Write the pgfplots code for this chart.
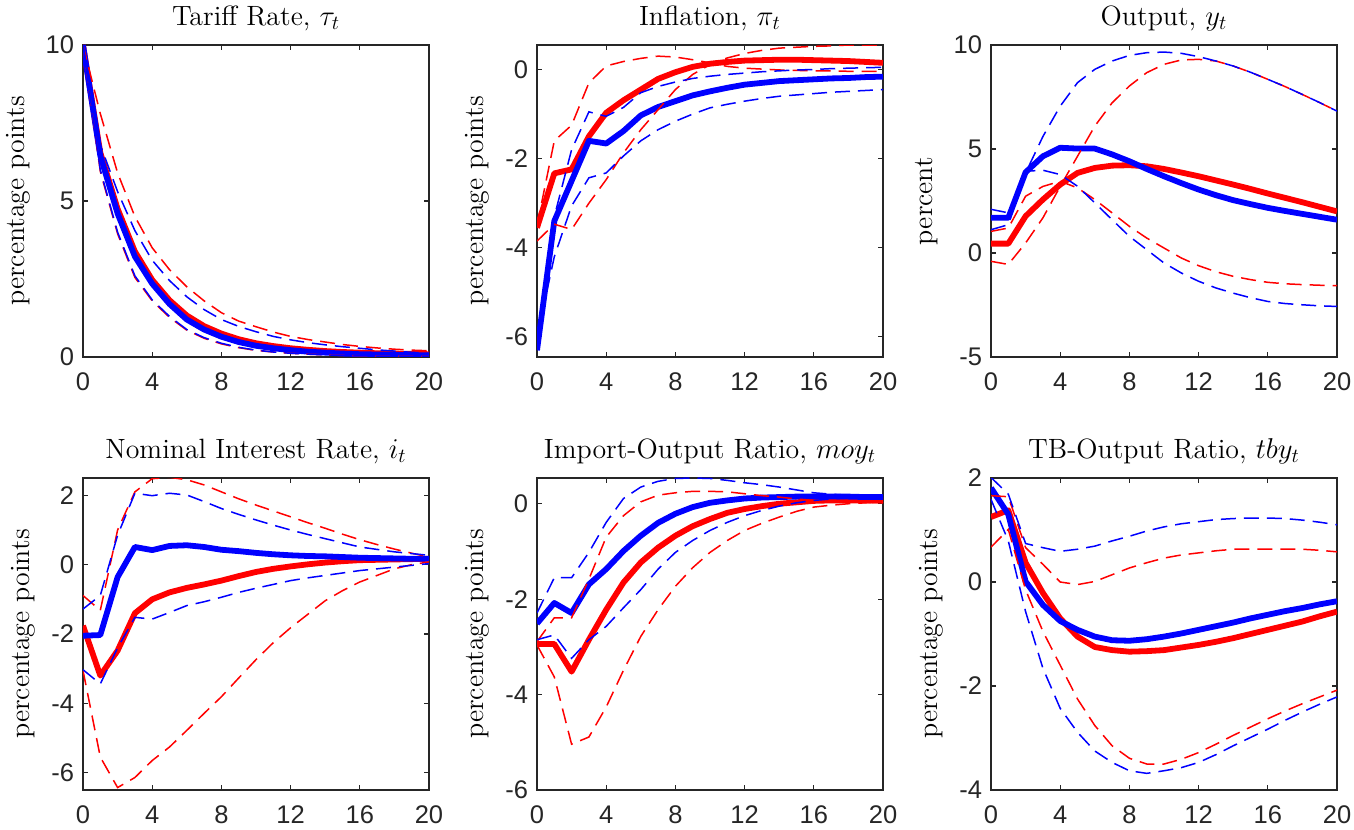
\documentclass[border=0pt]{standalone}
\usepackage{fontspec}
\usepackage{pgfplots}
\pgfplotsset{compat=1.18}
\usepgfplotslibrary{groupplots}
\newfontfamily\helv{Liberation Sans}
\definecolor{axgray}{RGB}{38,38,38}
\pgfplotsset{
  irf/.style={
    scale only axis, width=173bp, height=156bp,
    xmin=0, xmax=20, xtick={0,4,8,12,16,20},
    xticklabels={0,4,8,12,16,20},
    tick label style={font=\helv\fontsize{12.8}{14}\selectfont, text=axgray},
    xticklabel style={yshift=-4.5bp},
    yticklabel style={xshift=-1bp},
    axis line style={axgray, line width=0.55bp},
    every tick/.style={axgray, line width=0.55bp},
    major tick length=2.6bp,
    tick align=inside,
    title style={font=\fontsize{14}{16}\selectfont, yshift=-2.5bp},
    ylabel style={font=\fontsize{14}{16}\selectfont, yshift=1bp},
    clip=true,
  },
  rs/.style={red, line width=2.9bp, line join=round},
  bs/.style={blue, line width=2.9bp, line join=round},
  rd/.style={red, line width=0.75bp, dash pattern=on 7.5bp off 4bp},
  bd/.style={blue, line width=0.75bp, dash pattern=on 7.5bp off 4bp},
}
\begin{document}
\begin{tikzpicture}
\begin{groupplot}[group style={group size=3 by 2, horizontal sep=54bp, vertical sep=60.5bp}, irf]
% ---------- Tariff
\nextgroupplot[title={Tariff Rate, $\tau_t$}, ylabel={percentage points},
  ymin=0, ymax=10, ytick={0,5,10}, yticklabels={0,5,10}]
\addplot[rs] coordinates {(0,10)(1,6.55)(2,4.75)(3,3.38)(4,2.47)(5,1.82)(6,1.33)(7,0.99)(8,0.75)(9,0.57)(10,0.44)(11,0.35)(12,0.28)(13,0.23)(14,0.19)(15,0.16)(16,0.14)(17,0.12)(18,0.11)(19,0.1)(20,0.09)};
\addplot[bs] coordinates {(0,10)(1,6.45)(2,4.6)(3,3.22)(4,2.35)(5,1.7)(6,1.2)(7,0.88)(8,0.65)(9,0.48)(10,0.36)(11,0.28)(12,0.22)(13,0.17)(14,0.14)(15,0.11)(16,0.09)(17,0.08)(18,0.07)(19,0.06)(20,0.05)};
\addplot[rd] coordinates {(0,10)(1,7.8)(2,5.9)(3,4.5)(4,3.5)(5,2.8)(6,2.25)(7,1.8)(8,1.42)(9,1.15)(10,0.97)(11,0.8)(12,0.66)(13,0.56)(14,0.48)(15,0.4)(16,0.34)(17,0.29)(18,0.25)(19,0.22)(20,0.2)};
\addplot[rd] coordinates {(0,10)(1,5.95)(2,3.95)(3,2.55)(4,1.8)(5,1.27)(6,0.86)(7,0.6)(8,0.42)(9,0.3)(10,0.21)(11,0.16)(12,0.12)(13,0.09)(14,0.07)(15,0.05)(16,0.04)(17,0.03)(18,0.03)(19,0.02)(20,0.02)};
\addplot[bd] coordinates {(0,10)(1,6.8)(2,5.3)(3,4.05)(4,3.1)(5,2.45)(6,1.93)(7,1.52)(8,1.2)(9,0.98)(10,0.81)(11,0.66)(12,0.55)(13,0.46)(14,0.39)(15,0.33)(16,0.28)(17,0.23)(18,0.19)(19,0.15)(20,0.12)};
\addplot[bd] coordinates {(0,10)(1,6.0)(2,4.0)(3,2.6)(4,1.83)(5,1.3)(6,0.88)(7,0.62)(8,0.44)(9,0.31)(10,0.22)(11,0.16)(12,0.12)(13,0.09)(14,0.07)(15,0.05)(16,0.04)(17,0.03)(18,0.03)(19,0.02)(20,0.02)};
% ---------- Inflation
\nextgroupplot[title={Inflation, $\pi_t$}, ylabel={percentage points},
  ymin=-6.45, ymax=0.55, ytick={-6,-4,-2,0}, yticklabels={-6,-4,-2,0}]
\addplot[rs] coordinates {(0,-3.55)(1,-2.33)(2,-2.24)(3,-1.5)(4,-0.97)(5,-0.69)(6,-0.45)(7,-0.21)(8,-0.06)(9,0.06)(10,0.13)(11,0.17)(12,0.2)(13,0.21)(14,0.22)(15,0.22)(16,0.21)(17,0.2)(18,0.19)(19,0.17)(20,0.15)};
\addplot[bs] coordinates {(0,-6.3)(1,-3.4)(2,-2.5)(3,-1.6)(4,-1.66)(5,-1.38)(6,-1.03)(7,-0.84)(8,-0.71)(9,-0.58)(10,-0.49)(11,-0.41)(12,-0.34)(13,-0.3)(14,-0.26)(15,-0.24)(16,-0.22)(17,-0.2)(18,-0.19)(19,-0.17)(20,-0.16)};
\addplot[rd] coordinates {(0,-3.5)(1,-1.6)(2,-1.25)(3,-0.3)(4,0.08)(5,0.18)(6,0.25)(7,0.3)(8,0.28)(9,0.22)(10,0.15)(11,0.07)(12,0.03)(13,0.01)(14,-0.01)(15,-0.02)(16,-0.03)(17,-0.03)(18,-0.04)(19,-0.04)(20,-0.04)};
\addplot[rd] coordinates {(0,-3.85)(1,-3.47)(2,-3.59)(3,-3.0)(4,-2.47)(5,-1.87)(6,-1.35)(7,-0.9)(8,-0.45)(9,-0.11)(10,0.11)(11,0.26)(12,0.36)(13,0.43)(14,0.48)(15,0.5)(16,0.52)(17,0.53)(18,0.55)(19,0.55)(20,0.55)};
\addplot[bd] coordinates {(0,-6.2)(1,-3.3)(2,-1.8)(3,-0.95)(4,-1.05)(5,-0.85)(6,-0.52)(7,-0.38)(8,-0.28)(9,-0.2)(10,-0.15)(11,-0.11)(12,-0.08)(13,-0.05)(14,-0.03)(15,-0.01)(16,0.0)(17,0.02)(18,0.03)(19,0.04)(20,0.05)};
\addplot[bd] coordinates {(0,-6.0)(1,-4.2)(2,-3.06)(3,-2.43)(4,-2.32)(5,-1.94)(6,-1.6)(7,-1.35)(8,-1.16)(9,-1.0)(10,-0.86)(11,-0.78)(12,-0.71)(13,-0.65)(14,-0.6)(15,-0.57)(16,-0.54)(17,-0.51)(18,-0.49)(19,-0.47)(20,-0.45)};
% ---------- Output
\nextgroupplot[title={Output, $y_t$}, ylabel={percent},
  ymin=-5, ymax=10, ytick={-5,0,5,10}, yticklabels={-5,0,5,10}]
\addplot[rs] coordinates {(0,0.45)(1,0.45)(2,1.77)(3,2.57)(4,3.29)(5,3.85)(6,4.09)(7,4.2)(8,4.22)(9,4.17)(10,4.04)(11,3.87)(12,3.69)(13,3.49)(14,3.29)(15,3.08)(16,2.86)(17,2.65)(18,2.44)(19,2.22)(20,2.0)};
\addplot[bs] coordinates {(0,1.69)(1,1.69)(2,3.88)(3,4.65)(4,5.06)(5,5.02)(6,5.02)(7,4.74)(8,4.41)(9,4.04)(10,3.69)(11,3.36)(12,3.05)(13,2.78)(14,2.54)(15,2.35)(16,2.17)(17,2.02)(18,1.88)(19,1.74)(20,1.6)};
\addplot[rd] coordinates {(0,-0.4)(1,-0.55)(2,0.48)(3,1.69)(4,3.2)(5,4.65)(6,6.1)(7,7.22)(8,8.03)(9,8.67)(10,9.07)(11,9.28)(12,9.31)(13,9.23)(14,8.99)(15,8.69)(16,8.35)(17,8.0)(18,7.62)(19,7.23)(20,6.82)};
\addplot[rd] coordinates {(0,1.04)(1,1.2)(2,2.73)(3,3.2)(4,3.45)(5,3.13)(6,2.57)(7,1.93)(8,1.28)(9,0.72)(10,0.24)(11,-0.24)(12,-0.61)(13,-0.9)(14,-1.12)(15,-1.28)(16,-1.41)(17,-1.48)(18,-1.52)(19,-1.55)(20,-1.57)};
\addplot[bd] coordinates {(0,2.1)(1,1.93)(2,3.85)(3,5.6)(4,7.06)(5,8.19)(6,8.83)(7,9.23)(8,9.5)(9,9.63)(10,9.66)(11,9.6)(12,9.44)(13,9.23)(14,8.99)(15,8.69)(16,8.35)(17,8.0)(18,7.62)(19,7.23)(20,6.82)};
\addplot[bd] coordinates {(0,1.12)(1,1.36)(2,3.93)(3,3.98)(4,3.77)(5,3.21)(6,2.41)(7,1.6)(8,0.8)(9,0.16)(10,-0.48)(11,-0.96)(12,-1.36)(13,-1.68)(14,-1.93)(15,-2.15)(16,-2.33)(17,-2.43)(18,-2.49)(19,-2.54)(20,-2.57)};
% ---------- Nominal interest rate
\nextgroupplot[title={Nominal Interest Rate, $i_t$}, ylabel={percentage points},
  ymin=-6.5, ymax=2.5, ytick={-6,-4,-2,0,2}, yticklabels={-6,-4,-2,0,2}]
\addplot[rs] coordinates {(0,-1.76)(1,-3.2)(2,-2.48)(3,-1.4)(4,-1.0)(5,-0.8)(6,-0.67)(7,-0.57)(8,-0.46)(9,-0.33)(10,-0.21)(11,-0.12)(12,-0.05)(13,0.01)(14,0.06)(15,0.1)(16,0.13)(17,0.14)(18,0.15)(19,0.16)(20,0.17)};
\addplot[bs] coordinates {(0,-2.05)(1,-2.03)(2,-0.36)(3,0.51)(4,0.42)(5,0.54)(6,0.56)(7,0.51)(8,0.43)(9,0.39)(10,0.34)(11,0.3)(12,0.27)(13,0.25)(14,0.24)(15,0.22)(16,0.2)(17,0.19)(18,0.18)(19,0.17)(20,0.17)};
\addplot[rd] coordinates {(0,-0.89)(1,-1.32)(2,1.0)(3,2.1)(4,2.48)(5,2.52)(6,2.45)(7,2.3)(8,2.1)(9,1.9)(10,1.72)(11,1.55)(12,1.38)(13,1.21)(14,1.05)(15,0.88)(16,0.72)(17,0.58)(18,0.45)(19,0.33)(20,0.22)};
\addplot[rd] coordinates {(0,-3.05)(1,-5.55)(2,-6.43)(3,-6.14)(4,-5.65)(5,-5.26)(6,-4.78)(7,-4.29)(8,-3.81)(9,-3.27)(10,-2.74)(11,-2.25)(12,-1.82)(13,-1.43)(14,-1.04)(15,-0.75)(16,-0.5)(17,-0.31)(18,-0.12)(19,0.0)(20,0.08)};
\addplot[bd] coordinates {(0,-1.28)(1,-0.89)(2,0.85)(3,2.06)(4,1.99)(5,2.06)(6,2.01)(7,1.82)(8,1.62)(9,1.45)(10,1.29)(11,1.14)(12,1.0)(13,0.87)(14,0.75)(15,0.63)(16,0.51)(17,0.44)(18,0.37)(19,0.32)(20,0.27)};
\addplot[bd] coordinates {(0,-3.03)(1,-3.44)(2,-2.4)(3,-1.52)(4,-1.57)(5,-1.38)(6,-1.18)(7,-1.07)(8,-0.94)(9,-0.8)(10,-0.68)(11,-0.57)(12,-0.46)(13,-0.38)(14,-0.31)(15,-0.24)(16,-0.17)(17,-0.12)(18,-0.07)(19,-0.02)(20,0.03)};
% ---------- Import-output ratio
\nextgroupplot[title={Import-Output Ratio, $moy_t$}, ylabel={percentage points},
  ymin=-6, ymax=0.54, ytick={-6,-4,-2,0}, yticklabels={-6,-4,-2,0}]
\addplot[rs] coordinates {(0,-2.94)(1,-2.94)(2,-3.52)(3,-2.85)(4,-2.22)(5,-1.65)(6,-1.23)(7,-0.92)(8,-0.67)(9,-0.47)(10,-0.32)(11,-0.19)(12,-0.11)(13,-0.05)(14,0.0)(15,0.03)(16,0.06)(17,0.07)(18,0.07)(19,0.07)(20,0.07)};
\addplot[bs] coordinates {(0,-2.51)(1,-2.08)(2,-2.29)(3,-1.69)(4,-1.37)(5,-0.99)(6,-0.67)(7,-0.4)(8,-0.21)(9,-0.07)(10,0.02)(11,0.07)(12,0.11)(13,0.13)(14,0.14)(15,0.15)(16,0.15)(17,0.15)(18,0.15)(19,0.14)(20,0.14)};
\addplot[rd] coordinates {(0,-2.89)(1,-2.39)(2,-2.39)(3,-1.58)(4,-0.7)(5,-0.25)(6,0.04)(7,0.18)(8,0.23)(9,0.26)(10,0.26)(11,0.25)(12,0.21)(13,0.17)(14,0.14)(15,0.1)(16,0.07)(17,0.05)(18,0.04)(19,0.03)(20,0.02)};
\addplot[rd] coordinates {(0,-2.96)(1,-3.63)(2,-5.04)(3,-4.89)(4,-4.26)(5,-3.49)(6,-2.78)(7,-2.22)(8,-1.73)(9,-1.34)(10,-1.02)(11,-0.77)(12,-0.56)(13,-0.41)(14,-0.28)(15,-0.16)(16,-0.07)(17,-0.03)(18,0.0)(19,0.02)(20,0.04)};
\addplot[bd] coordinates {(0,-2.29)(1,-1.55)(2,-1.55)(3,-1.02)(4,-0.39)(5,0.11)(6,0.35)(7,0.47)(8,0.53)(9,0.54)(10,0.53)(11,0.49)(12,0.44)(13,0.4)(14,0.35)(15,0.29)(16,0.23)(17,0.2)(18,0.18)(19,0.16)(20,0.14)};
\addplot[bd] coordinates {(0,-2.85)(1,-2.75)(2,-3.24)(3,-2.85)(4,-2.57)(5,-2.18)(6,-1.8)(7,-1.37)(8,-1.02)(9,-0.77)(10,-0.56)(11,-0.39)(12,-0.25)(13,-0.14)(14,-0.05)(15,0.02)(16,0.07)(17,0.1)(18,0.12)(19,0.13)(20,0.14)};
% ---------- TB-output ratio
\nextgroupplot[title={TB-Output Ratio, $tby_t$}, ylabel={percentage points},
  ymin=-4, ymax=2, ytick={-4,-2,0,2}, yticklabels={-4,-2,0,2}]
\addplot[rs] coordinates {(0,1.25)(1,1.38)(2,0.37)(3,-0.21)(4,-0.7)(5,-1.05)(6,-1.25)(7,-1.31)(8,-1.34)(9,-1.33)(10,-1.31)(11,-1.26)(12,-1.21)(13,-1.15)(14,-1.08)(15,-1.0)(16,-0.92)(17,-0.84)(18,-0.76)(19,-0.66)(20,-0.57)};
\addplot[bs] coordinates {(0,1.81)(1,1.3)(2,0.01)(3,-0.44)(4,-0.75)(5,-0.92)(6,-1.05)(7,-1.12)(8,-1.13)(9,-1.1)(10,-1.05)(11,-0.99)(12,-0.92)(13,-0.85)(14,-0.78)(15,-0.7)(16,-0.63)(17,-0.56)(18,-0.5)(19,-0.43)(20,-0.37)};
\addplot[rd] coordinates {(0,1.66)(1,1.64)(2,0.66)(3,0.34)(4,0.0)(5,-0.05)(6,0.01)(7,0.14)(8,0.27)(9,0.37)(10,0.46)(11,0.52)(12,0.56)(13,0.6)(14,0.63)(15,0.63)(16,0.63)(17,0.63)(18,0.63)(19,0.61)(20,0.58)};
\addplot[rd] coordinates {(0,0.67)(1,1.01)(2,-0.15)(3,-0.95)(4,-1.6)(5,-2.25)(6,-2.76)(7,-3.15)(8,-3.39)(9,-3.5)(10,-3.5)(11,-3.41)(12,-3.28)(13,-3.12)(14,-2.95)(15,-2.79)(16,-2.63)(17,-2.48)(18,-2.34)(19,-2.21)(20,-2.08)};
\addplot[bd] coordinates {(0,2.01)(1,1.69)(2,0.74)(3,0.66)(4,0.59)(5,0.63)(6,0.69)(7,0.79)(8,0.88)(9,0.98)(10,1.06)(11,1.12)(12,1.16)(13,1.2)(14,1.22)(15,1.23)(16,1.23)(17,1.22)(18,1.19)(19,1.15)(20,1.1)};
\addplot[bd] coordinates {(0,1.59)(1,0.79)(2,-0.57)(3,-1.66)(4,-2.43)(5,-2.89)(6,-3.25)(7,-3.47)(8,-3.63)(9,-3.68)(10,-3.63)(11,-3.57)(12,-3.47)(13,-3.32)(14,-3.15)(15,-2.99)(16,-2.83)(17,-2.66)(18,-2.5)(19,-2.35)(20,-2.21)};
\end{groupplot}
\pgfresetboundingbox
\path (group c1r1.north west) ++(-41.5bp,22.5bp) rectangle ++(677bp,-415bp);
\end{tikzpicture}
\end{document}
